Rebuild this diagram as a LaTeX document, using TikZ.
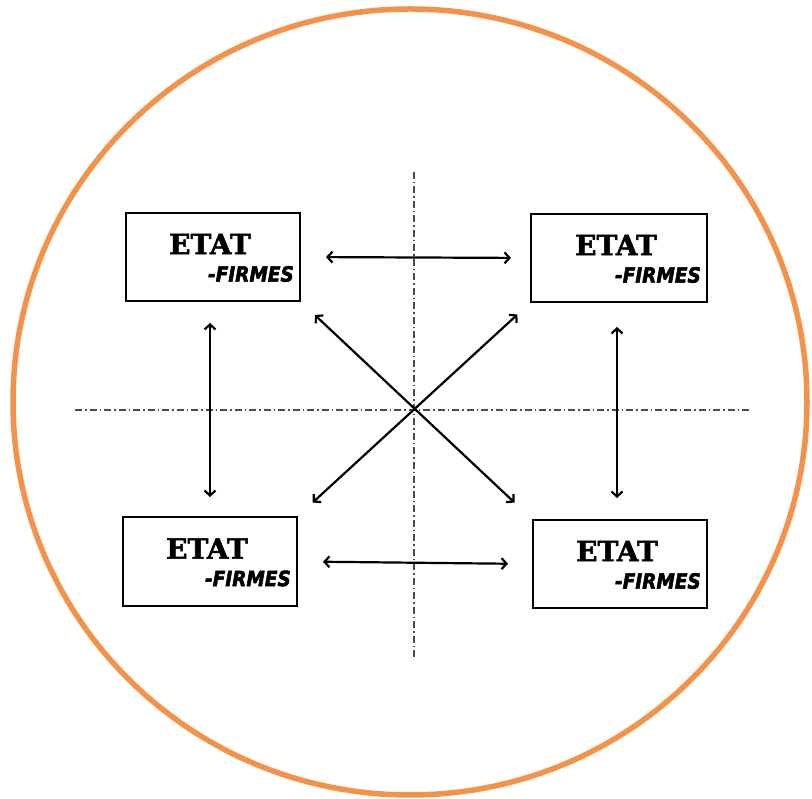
\documentclass[tikz,border=0pt]{standalone}
\usepackage{fontspec}
\usetikzlibrary{arrows.meta}
\newfontfamily\etatfont[FakeBold=2]{DejaVu Serif Bold}
\newfontfamily\firmfont[FakeBold=2.5,FakeStretch=0.88]{DejaVu Sans Bold Oblique}
\definecolor{ringorange}{RGB}{243,146,72}
\tikzset{
  box/.style={draw=black, line width=2pt, fill=white, inner sep=0pt},
  title/.style={font=\etatfont\fontsize{28}{30}\selectfont, inner sep=0pt},
  subtitle/.style={font=\firmfont\fontsize{21}{23}\selectfont, inner sep=0pt, anchor=east},
  axis/.style={draw=black!70, line width=1.2pt, dash pattern=on 7pt off 3pt on 1.5pt off 3pt},
  link/.style={line width=2.2pt, {Straight Barb[length=5pt,width=11pt]}-{Straight Barb[length=5pt,width=11pt]}}
}
% one labelled box: name, centre x, centre y, width, height
\newcommand\etatbox[5]{%
  \node[box, minimum width=#4pt, minimum height=#5pt] (#1) at (#2,#3) {};
  \node[title] (#1-etat) at ([xshift=-3pt,yshift=13pt]#1.center) {ETAT};
  \node[subtitle] (#1-firmes) at ([xshift=-7pt,yshift=-17pt]#1.east) {-FIRMES};
}
\begin{document}
\begin{tikzpicture}[x=1pt,y=1pt]
  \useasboundingbox (0,0) rectangle (812,799);
  % outer ring
  \draw[ringorange, line width=5.5pt] (410,397) ellipse [x radius=397, y radius=393];
  % axes
  \coordinate (hl) at (75,389);
  \coordinate (hr) at (752,389);
  \coordinate (vt) at (414,627);
  \coordinate (vb) at (414,142);
  \draw[axis] (hl) -- (hr);
  \draw[axis] (vt) -- (vb);
  % boxes
  \etatbox{tl}{213}{542}{174}{88}
  \etatbox{tr}{619}{541}{176}{88}
  \etatbox{bl}{210}{237.5}{174}{89}
  \etatbox{br}{620}{235}{174}{88}
  % links
  \draw[link, shorten <=25pt, shorten >=19pt] (tl.east) -- (tr.west);
  \draw[link, shorten <=25pt, shorten >=24pt] (bl.east) -- (br.west);
  \draw[link, shorten <=21pt, shorten >=19pt] ([xshift=-3pt]tl.south) -- (bl.north);
  \draw[link, shorten <=24pt, shorten >=21pt] ([xshift=-2pt]tr.south) -- ([xshift=-3pt]br.north);
  \draw[link, shorten <=19pt, shorten >=24pt] (tl.south east) -- (br.north west);
  \draw[link, shorten <=17pt, shorten >=20pt] (tr.south west) -- (bl.north east);
\end{tikzpicture}
\end{document}
